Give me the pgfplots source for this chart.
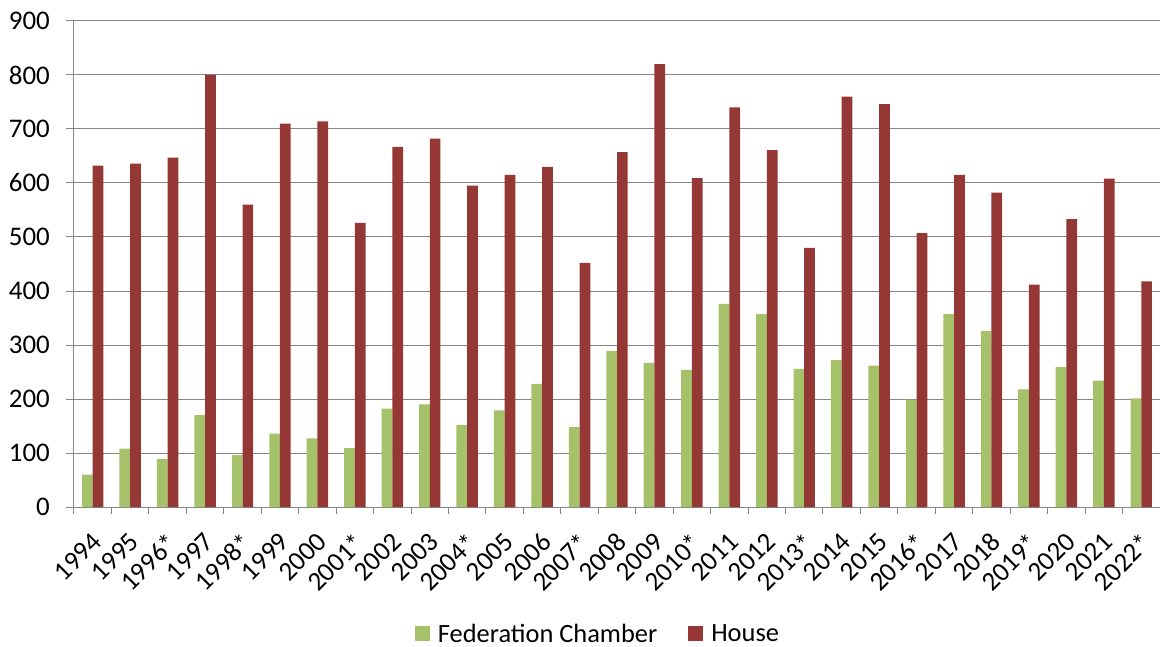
\documentclass[border=0pt]{standalone}
\usepackage{pgfplots}
\pgfplotsset{compat=1.18}
\usepackage{fontspec}
\setmainfont{Carlito}
\definecolor{fedgreen}{RGB}{165,194,107}
\definecolor{housered}{RGB}{149,55,53}
\definecolor{gridc}{RGB}{134,134,134}
\begin{document}
\begin{tikzpicture}
\begin{axis}[
  scale only axis,
  width=1086bp, height=486bp,
  xmin=-0.5, xmax=28.5,
  ymin=0, ymax=900,
  ytick={0,100,...,900},
  xtick={0,...,28},
  xticklabels={1994,1995,1996*,1997,1998*,1999,2000,2001*,2002,2003,2004*,2005,2006,2007*,2008,2009,2010*,2011,2012,2013*,2014,2015,2016*,2017,2018,2019*,2020,2021,2022*},
  minor xtick={-0.5,0.5,...,28.5},
  major x tick style={draw=none},
  minor x tick style={draw=gridc, line width=1bp},
  y tick style={draw=gridc, line width=1bp},
  tick align=outside,
  major tick length=8bp,
  minor tick length=7bp,
  axis x line*=bottom,
  axis y line*=left,
  axis line style={draw=gridc, line width=1bp, -},
  ymajorgrids,
  major grid style={draw=gridc, line width=1bp},
  /pgf/number format/assume math mode=true,
  xticklabel style={font=\fontsize{27}{30}\selectfont, xshift=-2bp, yshift=-16bp, rotate=45, anchor=north east, inner sep=0pt},
  yticklabel style={font=\fontsize{27}{30}\selectfont, inner sep=0pt, xshift=-16bp},
  ybar=0pt,
  bar width=0.286,
  legend columns=2,
  legend style={at={(0.4825,-0.261)}, anchor=center, draw=none, fill=none,
    font=\fontsize{26.5}{30}\selectfont,
    /tikz/every even column/.append style={column sep=29bp}},
  legend image code/.code={\fill[#1] (0bp,-7.5bp) rectangle (15bp,7.5bp); \path (21bp,0bp);},
]
\addplot[fill=fedgreen, draw=none] coordinates {
(0,60) (1,108) (2,89) (3,170) (4,96) (5,136) (6,127) (7,109) (8,182) (9,190)
(10,152) (11,179) (12,228) (13,148) (14,289) (15,267) (16,254) (17,376) (18,357) (19,256)
(20,272) (21,262) (22,199) (23,357) (24,326) (25,218) (26,259) (27,234) (28,201)};
\addplot[fill=housered, draw=none] coordinates {
(0,632) (1,636) (2,647) (3,800) (4,560) (5,710) (6,714) (7,526) (8,667) (9,682)
(10,595) (11,615) (12,630) (13,452) (14,657) (15,820) (16,609) (17,740) (18,661) (19,480)
(20,760) (21,746) (22,507) (23,615) (24,582) (25,412) (26,533) (27,608) (28,418)};
\legend{Federation Chamber, House}
\end{axis}
\pgfresetboundingbox
\path[use as bounding box] (current axis.south west) ++(-74bp,-140bp) rectangle ++(1160bp,647bp);
\end{tikzpicture}
\end{document}
